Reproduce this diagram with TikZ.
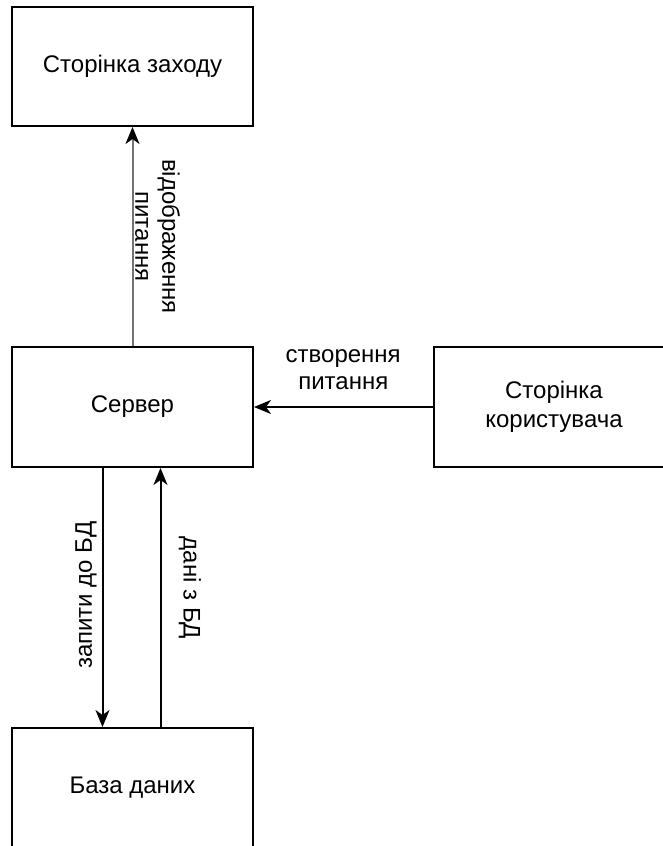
\documentclass[tikz,border=0pt]{standalone}
\usepackage{fontspec}
\setmainfont{Liberation Sans}
\usetikzlibrary{arrows.meta}

\tikzset{
  box/.style={draw,line width=2pt,minimum width=241pt,minimum height=120pt,
    inner sep=0pt,align=center,font=\fontsize{24}{29}\selectfont},
  flow/.style={-{Stealth[length=17pt,width=14pt,inset=5pt]},line width=2pt},
  lab/.style={align=center,inner sep=0pt,font=\fontsize{24}{27}\selectfont}
}

\begin{document}
\begin{tikzpicture}[x=1pt,y=-1pt]
        \useasboundingbox (0,0) rectangle (663,846);

        \node[box,minimum height=119pt] (login) at (132.5,66.5) {Сторінка заходу};
        \node[box] (server) at (132.5,407) {Сервер};
        \node[box] (user) at (554,407) {Сторінка\\користувача};
        \node[box] (db) at (132.5,788) {База даних};

        \draw[flow,draw=black!55,-{Stealth[length=17pt,width=14pt,inset=5pt,color=black]}] (server.north) -- node[lab,xshift=25pt,rotate=-90] (show) {відображення\\питання} (login.south);
        \draw[flow] (user.west) -- node[lab,yshift=37pt] (create) {створення\\питання} (server.east);
        \draw[flow] ([xshift=-30pt]server.south) -- node[lab,xshift=-16.5pt,yshift=2.5pt,rotate=90] (query) {запити до БД} ([xshift=-30pt]db.north);
        \draw[flow] ([xshift=28pt]db.north) -- node[lab,xshift=29.5pt,yshift=9.5pt,rotate=-90] (data) {дані з БД} ([xshift=28pt]server.south);
      \end{tikzpicture}
\end{document}
